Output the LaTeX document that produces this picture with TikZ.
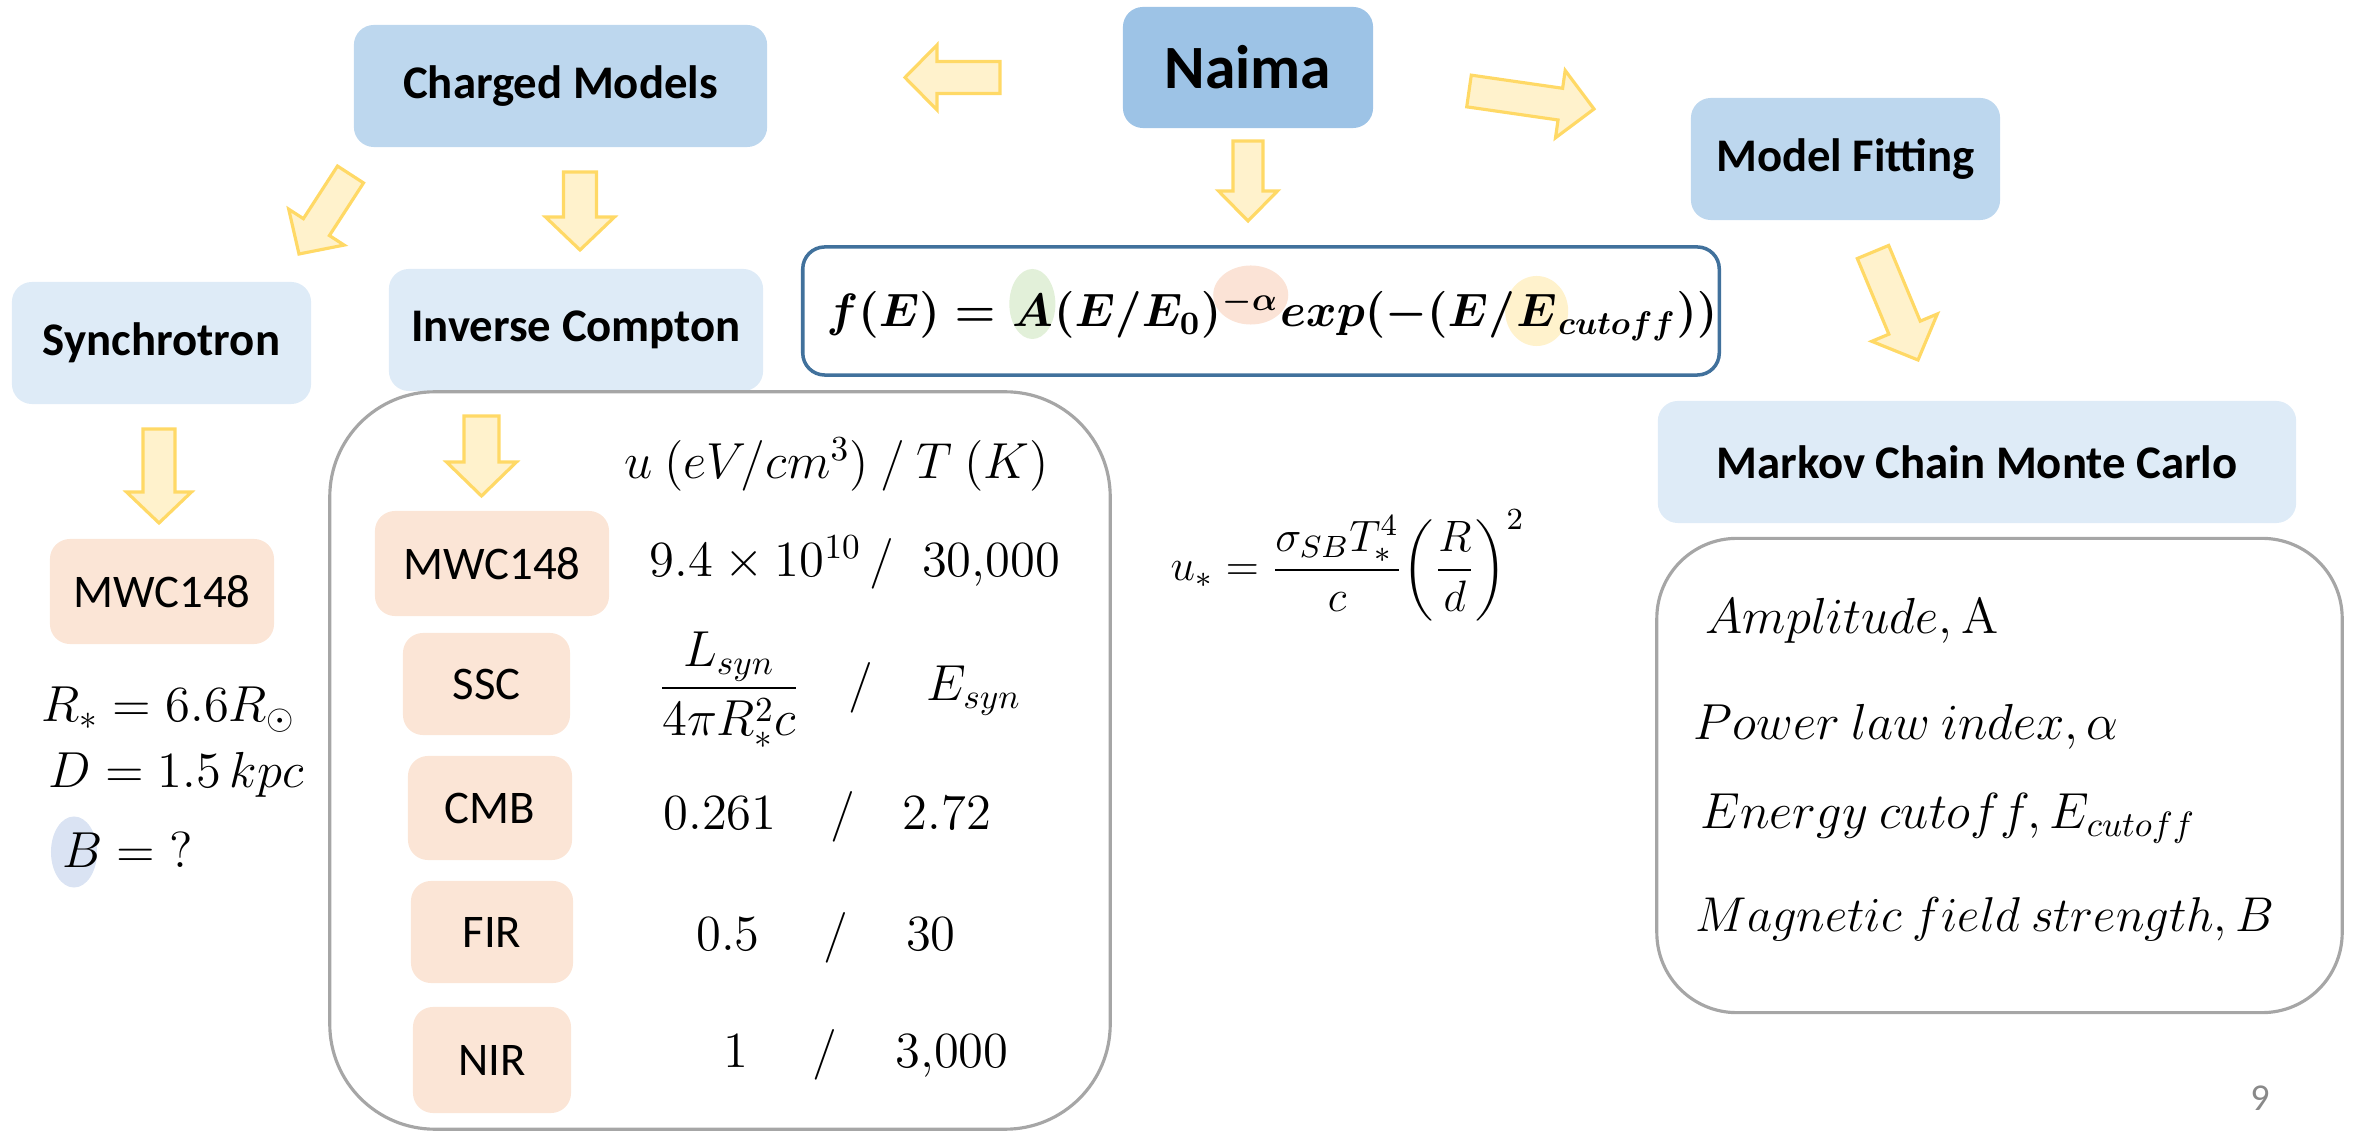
\RequirePackage{fix-cm}
\documentclass[tikz,border=0pt]{standalone}
\usepackage[no-math]{fontspec}
\setmainfont{Carlito}
\usepackage{amsmath}
\usetikzlibrary{calc}
\pgfdeclarelayer{bg}
\pgfsetlayers{bg,main}
\definecolor{naimablue}{HTML}{9DC3E6}
\definecolor{midblue}{HTML}{BDD7EE}
\definecolor{lightblue}{HTML}{DEEBF7}
\definecolor{peach}{HTML}{FBE5D6}
\definecolor{arrowfill}{HTML}{FFF2CC}
\definecolor{arrowline}{HTML}{FFD966}
\definecolor{boxgray}{HTML}{A6A6A6}
\definecolor{fmlblue}{HTML}{41719C}
\definecolor{hlgreen}{HTML}{E2F0D9}
\definecolor{hlpink}{HTML}{FBE3D6}
\definecolor{hlyellow}{HTML}{FFF2CC}
\definecolor{hlblue}{HTML}{DAE3F3}
\definecolor{pagegray}{HTML}{898989}
\newcommand{\blockarr}[5]{%
  \coordinate (bah) at ($(#2)!#5!(#1)$);
  \draw[blockarrow] ($(#1)!#3!90:(#2)$) -- ($(bah)!#3!90:(#2)$) -- ($(bah)!#4!90:(#2)$) -- (#2) -- ($(bah)!#4!-90:(#2)$) -- ($(bah)!#3!-90:(#2)$) -- ($(#1)!#3!-90:(#2)$) -- cycle;}
\begin{document}
\begin{tikzpicture}[x=0.01cm,y=-0.01cm,
  lbl/.style={rectangle, rounded corners=0.2cm, inner sep=0pt, align=center},
  bluebox/.style={lbl, font=\fontsize{13.3}{16}\selectfont\bfseries},
  peachbox/.style={lbl, fill=peach, font=\fontsize{13.3}{16}\selectfont},
  mth/.style={inner sep=0pt, font=\fontsize{14.4}{17}\selectfont},
  fml/.style={inner sep=0pt, anchor=base west, font=\fontsize{13.3}{16}\selectfont\boldmath},
  blockarrow/.style={fill=arrowfill, draw=arrowline, line width=0.9pt, line join=miter},
  frame/.style={draw=boxgray, line width=0.9pt}]
\useasboundingbox (0,0) rectangle (2354,1131);

% ---- boxes ----
\node[bluebox, fill=naimablue, minimum width=2.50cm, minimum height=1.21cm, font=\fontsize{17.5}{20}\selectfont\bfseries] (naima) at (1248,67.5) {Naima};
\node[bluebox, fill=midblue, minimum width=4.13cm, minimum height=1.22cm] (charged) at (560.5,86) {Charged Models};
\node[bluebox, fill=midblue, minimum width=3.09cm, minimum height=1.22cm] (fitting) at (1845.5,159) {Model Fitting};
\node[bluebox, fill=lightblue, minimum width=2.99cm, minimum height=1.22cm] (synch) at (161.5,343) {Synchrotron};
\node[bluebox, fill=lightblue, minimum width=3.74cm, minimum height=1.22cm] (ic) at (576,330) {Inverse Compton};
\node[bluebox, fill=lightblue, minimum width=6.38cm, minimum height=1.22cm] (mcmc) at (1977,462) {Markov Chain Monte Carlo};

% formula box
\node[draw=fmlblue, line width=1pt, rounded corners=0.22cm, minimum width=9.16cm, minimum height=1.28cm, inner sep=0pt] (fbox) at (1261,311) {};
% big rounded frames
\node[frame, rounded corners=1.05cm, minimum width=7.80cm, minimum height=7.37cm, inner sep=0pt] (icframe) at (720,760.5) {};
\node[frame, rounded corners=0.8cm, minimum width=6.85cm, minimum height=4.74cm, inner sep=0pt] (parframe) at (1999.5,775.5) {};

% peach boxes
\node[peachbox, minimum width=2.24cm, minimum height=1.05cm] (mwcL) at (162,591.5) {MWC148};
\node[peachbox, minimum width=2.34cm, minimum height=1.05cm] (mwcI) at (492,563.5) {MWC148};
\node[peachbox, minimum width=1.67cm, minimum height=1.02cm] (ssc) at (486.5,684) {SSC};
\node[peachbox, minimum width=1.64cm, minimum height=1.04cm] (cmb) at (490,808) {CMB};
\node[peachbox, minimum width=1.62cm, minimum height=1.02cm] (fir) at (492,932) {FIR};
\node[peachbox, minimum width=1.58cm, minimum height=1.06cm] (nir) at (492,1060) {NIR};

% ---- block arrows ----
\coordinate (a1t) at (1000,77.5); \coordinate (a1p) at (905,77.5);
\coordinate (a2t) at (1469,91);   \coordinate (a2p) at (1594,109);
\coordinate (a3t) at (1248,141);  \coordinate (a3p) at (1248,221);
\coordinate (a4t) at (350.5,174.5); \coordinate (a4p) at (299,254);
\coordinate (a5t) at (580,172);   \coordinate (a5p) at (580,250);
\coordinate (a6t) at (1873,252);  \coordinate (a6p) at (1918,360);
\coordinate (a7t) at (159,429);   \coordinate (a7p) at (159,523);
\coordinate (a8t) at (481.5,416); \coordinate (a8p) at (481.5,496);
\blockarr{a1t}{a1p}{0.16cm}{0.325cm}{0.32cm}
\blockarr{a2t}{a2p}{0.16cm}{0.34cm}{0.34cm}
\blockarr{a3t}{a3p}{0.15cm}{0.295cm}{0.30cm}
\blockarr{a4t}{a4p}{0.155cm}{0.33cm}{0.32cm}
\blockarr{a5t}{a5p}{0.165cm}{0.345cm}{0.33cm}
\blockarr{a6t}{a6p}{0.17cm}{0.355cm}{0.35cm}
\blockarr{a7t}{a7p}{0.16cm}{0.325cm}{0.31cm}
\blockarr{a8t}{a8p}{0.175cm}{0.35cm}{0.34cm}

% ---- main formula ----
\node[fml] (q1) at (826,327) {$f(E)={}$};
\node[fml] (q2) at (q1.base east) {$A$};
\node[fml] (q3) at (q2.base east) {$(E/E_0)$};
\node[fml] (q4) at (q3.base east) {${}^{-\alpha}$};
\node[fml] (q5) at (q4.base east) {$exp(-(E/$};
\node[fml] (q6) at (q5.base east) {$E$};
\node[fml] (q7) at (q6.base east) {${}_{cutoff}))$};
\begin{pgfonlayer}{bg}
\fill[hlgreen] ($(q2.base)+(0,-23)$) ellipse [x radius=0.23cm, y radius=0.35cm];
\fill[hlpink] ($(q4.base)+(0,-32)$) ellipse [x radius=0.375cm, y radius=0.295cm];
\fill[hlyellow] ($(q6.base)+(0,-16)$) ellipse [x radius=0.315cm, y radius=0.35cm];
\fill[hlblue] (74,852) ellipse [x radius=0.23cm, y radius=0.355cm];
\end{pgfonlayer}

% ---- left column ----
\node[mth, anchor=base west] (rstar) at (41,722) {$R_* = 6.6R_\odot$};
\node[mth, anchor=base west] (dist) at (48,788) {$D = 1.5\,kpc$};
\node[mth, anchor=base west] (bfield) at (62,867) {$B = {}?$};

% ---- IC table ----
\node[mth, anchor=base west] (head) at (624,479) {$u\ (eV/cm^3)\ /\ T\ (K)$};
\node[mth, anchor=base west] (r1a) at (649,577) {$9.4\times 10^{10}$};
\node[mth, anchor=base] (r1s) at (882,577) {$/$};
\node[mth, anchor=base] (r1b) at (991,577) {$30{,}000$};
\node[mth, anchor=base] (r2a) at (729,701) {$\dfrac{L_{syn}}{4\pi R_*^2 c}$};
\node[mth, anchor=base] (r2s) at (861,701) {$/$};
\node[mth, anchor=base] (r2b) at (974,701) {$E_{syn}$};
\node[mth, anchor=base] (r3a) at (720,830) {$0.261$};
\node[mth, anchor=base] (r3s) at (843,830) {$/$};
\node[mth, anchor=base] (r3b) at (947,830) {$2.72$};
\node[mth, anchor=base] (r4a) at (728,950) {$0.5$};
\node[mth, anchor=base] (r4s) at (836,950) {$/$};
\node[mth, anchor=base] (r4b) at (931,950) {$30$};
\node[mth, anchor=base] (r5a) at (736,1067) {$1$};
\node[mth, anchor=base] (r5s) at (825,1067) {$/$};
\node[mth, anchor=base] (r5b) at (952,1067) {$3{,}000$};

% ---- u_* formula ----
\node[mth, anchor=base west, font=\fontsize{12.5}{15}\selectfont] (ustar) at (1170,581) {$u_* = \dfrac{\sigma_{SB}T_*^4}{c}\biggl(\dfrac{R}{d}\biggr)^{2}$};

% ---- MCMC parameters ----
\node[mth, anchor=base west] (p1) at (1705,634) {$Amplitude, \mathrm{A}$};
\node[mth, anchor=base west] (p2) at (1693,740) {$Power\ law\ index, \alpha$};
\node[mth, anchor=base west] (p3) at (1700,829) {$Energy\ cutoff, E_{cutoff}$};
\node[mth, anchor=base west, font=\fontsize{13.9}{16}\selectfont] (p4) at (1695,932) {$Magnetic\ field\ strength, B$};

% page number
\node[inner sep=0pt, text=pagegray, font=\fontsize{10.8}{12}\selectfont] (pnum) at (2260,1098) {9};
\end{tikzpicture}
\end{document}
